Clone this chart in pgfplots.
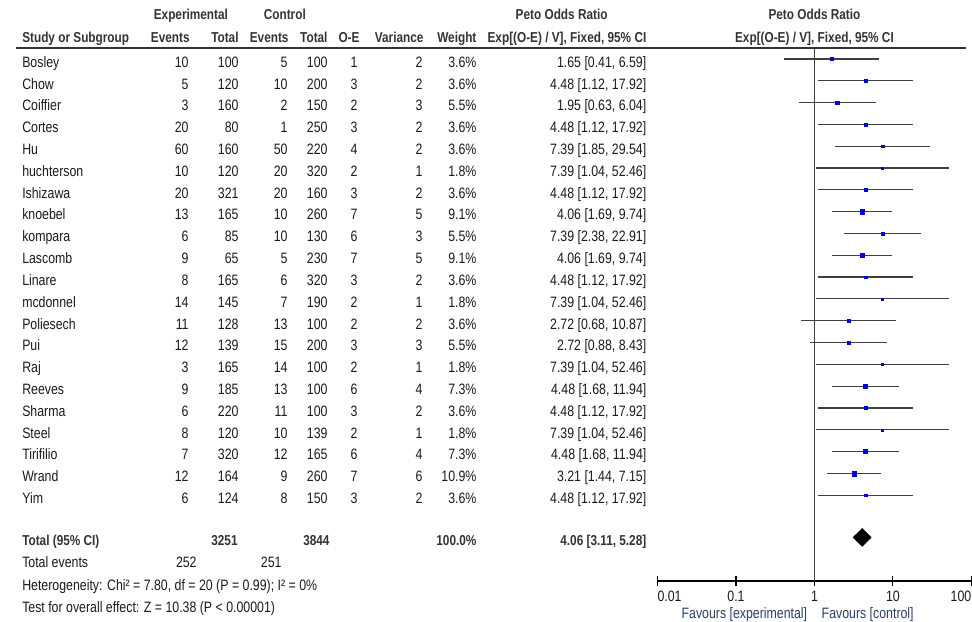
\documentclass[border=0pt]{standalone}
\usepackage{pgfplots}
\pgfplotsset{compat=1.18}
\usepackage{pgfplotstable}
\usepackage{fontspec}
\setmainfont{Liberation Sans}[FakeStretch=0.82]
\definecolor{hdr}{HTML}{333333}
\definecolor{txt}{HTML}{1A1A1A}
\definecolor{mk}{HTML}{0000E0}
\definecolor{ln}{HTML}{404040}
\definecolor{fav}{HTML}{2B3E66}
\newcommand{\hb}{\fontsize{10.8}{12}\selectfont\bfseries}
\pgfplotstableread{
row or lo hi w
1 1.65 0.41 6.59 3.6
2 4.48 1.12 17.92 3.6
3 1.95 0.63 6.04 5.5
4 4.48 1.12 17.92 3.6
5 7.39 1.85 29.54 3.6
6 7.39 1.04 52.46 1.8
7 4.48 1.12 17.92 3.6
8 4.06 1.69 9.74 9.1
9 7.39 2.38 22.91 5.5
10 4.06 1.69 9.74 9.1
11 4.48 1.12 17.92 3.6
12 7.39 1.04 52.46 1.8
13 2.72 0.68 10.87 3.6
14 2.72 0.88 8.43 5.5
15 7.39 1.04 52.46 1.8
16 4.48 1.68 11.94 7.3
17 4.48 1.12 17.92 3.6
18 7.39 1.04 52.46 1.8
19 4.48 1.68 11.94 7.3
20 3.21 1.44 7.15 10.9
21 4.48 1.12 17.92 3.6
}\studies
\begin{document}
\fontsize{11.3}{13}\selectfont
\begin{tikzpicture}
\begin{scope}[x=0.75pt,y=-0.75pt,every node/.style={inner sep=0pt,text=txt}]
\path[use as bounding box] (0,0) rectangle (972,622);
% header
\node[anchor=base,text=hdr] at (191,19.5) {\hb Experimental};
\node[anchor=base,text=hdr] at (285,19.5) {\hb Control};
\node[anchor=base,text=hdr] at (562,19.5) {\hb Peto Odds Ratio};
\node[anchor=base,text=hdr] at (815,19.5) {\hb Peto Odds Ratio};
\node[anchor=base west,text=hdr] at (22,42.3) {\hb Study or Subgroup};
\node[anchor=base east,text=hdr] at (190,42.3) {\hb Events};
\node[anchor=base east,text=hdr] at (239,42.3) {\hb Total};
\node[anchor=base east,text=hdr] at (289,42.3) {\hb Events};
\node[anchor=base east,text=hdr] at (328,42.3) {\hb Total};
\node[anchor=base east,text=hdr] at (360,42.3) {\hb O-E};
\node[anchor=base east,text=hdr] at (424,42.3) {\hb Variance};
\node[anchor=base east,text=hdr] at (477,42.3) {\hb Weight};
\node[anchor=base east,text=hdr] at (647,42.3) {\hb Exp[(O-E) / V], Fixed, 95\% CI};
\node[anchor=base,text=hdr] at (815,42.3) {\hb Exp[(O-E) / V], Fixed, 95\% CI};
\draw[hdr,line width=1pt] (16,48) -- (967,48);
% rows
\foreach \n/\a/\b/\c/\d/\e/\f/\g/\h [count=\i from 0] in {
Bosley/10/100/5/100/1/2/3.6/{1.65 [0.41, 6.59]},
Chow/5/120/10/200/3/2/3.6/{4.48 [1.12, 17.92]},
Coiffier/3/160/2/150/2/3/5.5/{1.95 [0.63, 6.04]},
Cortes/20/80/1/250/3/2/3.6/{4.48 [1.12, 17.92]},
Hu/60/160/50/220/4/2/3.6/{7.39 [1.85, 29.54]},
huchterson/10/120/20/320/2/1/1.8/{7.39 [1.04, 52.46]},
Ishizawa/20/321/20/160/3/2/3.6/{4.48 [1.12, 17.92]},
knoebel/13/165/10/260/7/5/9.1/{4.06 [1.69, 9.74]},
kompara/6/85/10/130/6/3/5.5/{7.39 [2.38, 22.91]},
Lascomb/9/65/5/230/7/5/9.1/{4.06 [1.69, 9.74]},
Linare/8/165/6/320/3/2/3.6/{4.48 [1.12, 17.92]},
mcdonnel/14/145/7/190/2/1/1.8/{7.39 [1.04, 52.46]},
Poliesech/11/128/13/100/2/2/3.6/{2.72 [0.68, 10.87]},
Pui/12/139/15/200/3/3/5.5/{2.72 [0.88, 8.43]},
Raj/3/165/14/100/2/1/1.8/{7.39 [1.04, 52.46]},
Reeves/9/185/13/100/6/4/7.3/{4.48 [1.68, 11.94]},
Sharma/6/220/11/100/3/2/3.6/{4.48 [1.12, 17.92]},
Steel/8/120/10/139/2/1/1.8/{7.39 [1.04, 52.46]},
Tirifilio/7/320/12/165/6/4/7.3/{4.48 [1.68, 11.94]},
Wrand/12/164/9/260/7/6/10.9/{3.21 [1.44, 7.15]},
Yim/6/124/8/150/3/2/3.6/{4.48 [1.12, 17.92]}}{
\pgfmathsetmacro\yy{67.3+21.83*\i}
\node[anchor=base west] at (22,\yy) {\n};
\node[anchor=base east] at (189,\yy) {\a};
\node[anchor=base east] at (239,\yy) {\b};
\node[anchor=base east] at (288,\yy) {\c};
\node[anchor=base east] at (328,\yy) {\d};
\node[anchor=base east] at (358,\yy) {\e};
\node[anchor=base east] at (423,\yy) {\f};
\node[anchor=base east] at (477,\yy) {\g\%};
\node[anchor=base east] at (647,\yy) {\h};
}
% totals
\node[anchor=base west,text=hdr] at (22,545.5) {\hb Total (95\% CI)};
\node[anchor=base east,text=hdr] at (238,545.5) {\hb 3251};
\node[anchor=base east,text=hdr] at (330,545.5) {\hb 3844};
\node[anchor=base east,text=hdr] at (477,545.5) {\hb 100.0\%};
\node[anchor=base east,text=hdr] at (647,545.5) {\hb 4.06 [3.11, 5.28]};
\node[anchor=base west] at (22,568) {Total events};
\node[anchor=base east] at (197,568) {252};
\node[anchor=base east] at (282,568) {251};
\node[anchor=base west] at (22,590.5) {Heterogeneity: Chi² = 7.80, df = 20 (P = 0.99); I² = 0\%};
\node[anchor=base west] at (22,613) {Test for overall effect: Z = 10.38 (P < 0.00001)};
\node[anchor=base east,text=fav] at (808,618.5) {Favours [experimental]};
\node[anchor=base west,text=fav] at (822,618.5) {Favours [control]};
\end{scope}
\begin{axis}[at={(493.5pt,-36pt)}, anchor=north west, scale only axis,
  width=235.5pt, height=400.1pt,
  xmode=log, xmin=0.01, xmax=100, ymin=0.496, ymax=24.94, y dir=reverse,
  axis x line*=bottom, axis y line=none,
  xtick={0.01,0.1,1,10,100},
  xticklabels={\makebox[0pt][l]{0.01},0.1,1,10,\makebox[0pt][r]{100}},
  xminorticks=false, tick align=center, major tick length=8pt,
  every tick/.style={black,line width=0.8pt},
  axis line style={black,line width=1pt},
  xticklabel style={anchor=north,inner sep=0pt,text=txt,yshift=-3.5pt},
  clip=false]
\addplot[ln,line width=0.9pt] coordinates {(1,0.496) (1,24.94)};
\addplot[ln,line width=0.9pt] coordinates {(0.41,1) (6.59,1)};
\addplot[ln,line width=0.9pt] coordinates {(1.12,2) (17.92,2)};
\addplot[ln,line width=0.9pt] coordinates {(0.63,3) (6.04,3)};
\addplot[ln,line width=0.9pt] coordinates {(1.12,4) (17.92,4)};
\addplot[ln,line width=0.9pt] coordinates {(1.85,5) (29.54,5)};
\addplot[ln,line width=0.9pt] coordinates {(1.04,6) (52.46,6)};
\addplot[ln,line width=0.9pt] coordinates {(1.12,7) (17.92,7)};
\addplot[ln,line width=0.9pt] coordinates {(1.69,8) (9.74,8)};
\addplot[ln,line width=0.9pt] coordinates {(2.38,9) (22.91,9)};
\addplot[ln,line width=0.9pt] coordinates {(1.69,10) (9.74,10)};
\addplot[ln,line width=0.9pt] coordinates {(1.12,11) (17.92,11)};
\addplot[ln,line width=0.9pt] coordinates {(1.04,12) (52.46,12)};
\addplot[ln,line width=0.9pt] coordinates {(0.68,13) (10.87,13)};
\addplot[ln,line width=0.9pt] coordinates {(0.88,14) (8.43,14)};
\addplot[ln,line width=0.9pt] coordinates {(1.04,15) (52.46,15)};
\addplot[ln,line width=0.9pt] coordinates {(1.68,16) (11.94,16)};
\addplot[ln,line width=0.9pt] coordinates {(1.12,17) (17.92,17)};
\addplot[ln,line width=0.9pt] coordinates {(1.04,18) (52.46,18)};
\addplot[ln,line width=0.9pt] coordinates {(1.68,19) (11.94,19)};
\addplot[ln,line width=0.9pt] coordinates {(1.44,20) (7.15,20)};
\addplot[ln,line width=0.9pt] coordinates {(1.12,21) (17.92,21)};
\addplot[scatter, only marks, mark=square*, line width=0.2pt,
  scatter/use mapped color={draw=mk,fill=mk},
  visualization depends on={0.55*sqrt(\thisrow{w}) \as \msz},
  scatter/@pre marker code/.append style={/tikz/mark size=\msz pt}]
  table[x=or,y=row] {\studies};
\addplot[draw=black,fill=black] coordinates {(3.11,22.94) (4.06,22.53) (5.28,22.94) (4.06,23.35)} -- cycle;
\end{axis}
\end{tikzpicture}
\end{document}
